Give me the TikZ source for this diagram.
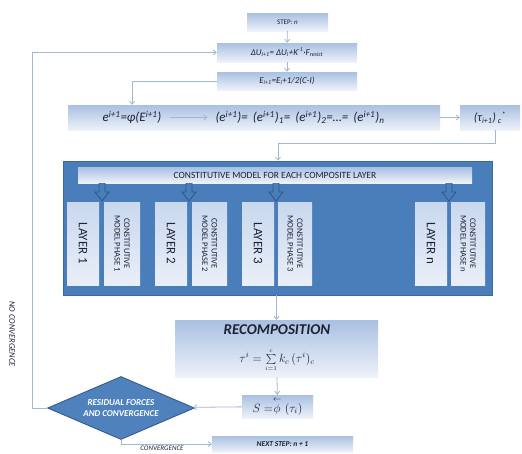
\documentclass[tikz,border=0pt]{standalone}
\usepackage{fontspec}
\setmainfont{Carlito}
\usetikzlibrary{arrows.meta,shapes.geometric}
\definecolor{bigblue}{HTML}{4A7EBB}
\definecolor{bigedge}{HTML}{3A689F}
\definecolor{boxtop}{HTML}{A9C0E2}
\definecolor{boxbot}{HTML}{EEF2F9}
\definecolor{laytop}{HTML}{C9D8EE}
\definecolor{laybot}{HTML}{E9EFF8}
\definecolor{linec}{HTML}{A3B6D3}
\definecolor{txt}{HTML}{1C2236}
\definecolor{diafill}{HTML}{4F81BD}
\definecolor{diaedge}{HTML}{2F5487}
\tikzset{
  gbox/.style={rectangle, inner sep=0pt, top color=boxtop, bottom color=boxbot, draw=none, text=txt, font=\itshape},
  laybox/.style={rectangle, inner sep=0pt, top color=laytop, bottom color=laybot, draw=none, text=txt, rotate=-90, align=center},
  conn/.style={draw=linec, line width=0.8pt, -{Straight Barb[length=3pt,width=5pt]}},
  blockarr/.style={draw=diaedge, fill=bigblue, line width=0.8pt, line join=miter},
  rowtxt/.style={inner sep=0pt, text=txt, font=\itshape\fontsize{13}{14}\selectfont},
  laytxt/.style={font=\fontsize{13}{14}\selectfont},
  cmtxt/.style={font=\fontsize{8.5}{9.5}\selectfont},
}
\begin{document}
\begin{tikzpicture}[x=1pt,y=-1pt]
\useasboundingbox (0,0) rectangle (522,453);
\fill[white] (0,0) rectangle (522,453);

% top boxes
\node[gbox, minimum width=81pt, minimum height=18pt, font=\fontsize{7}{8}\selectfont] (step) at (287.5,22) {STEP: \textit{n}};
\node[gbox, minimum width=140pt, minimum height=19pt, font=\itshape\fontsize{9}{10}\selectfont] (du) at (287,52.5) {ΔU\textsubscript{i+1}= ΔU\textsubscript{i}+K\textsuperscript{-1}·F\textsubscript{resist}};
\node[gbox, minimum width=140pt, minimum height=18pt, font=\itshape\fontsize{9}{10}\selectfont] (e) at (287,81) {E\textsubscript{i+1}=E\textsubscript{i}+1/2(C-I)};

\node[gbox, minimum width=372pt, minimum height=25pt] (erow) at (254,117.5) {};
\node[rowtxt] (t1) at (132,117.5) {e\textsuperscript{i+1}=φ(E\textsuperscript{i+1})};
\node[rowtxt] (t2) at (300,117.5) {(e\textsuperscript{i+1})=\, (e\textsuperscript{i+1})\textsubscript{1}=\, (e\textsuperscript{i+1})\textsubscript{2}=…=\, (e\textsuperscript{i+1})\textsubscript{n}};
\node[gbox, minimum width=60pt, minimum height=25pt, font=\itshape\fontsize{12}{13}\selectfont] (tau) at (490,117.5) {(τ\textsubscript{i+1})\textsubscript{ c}\textsuperscript{*}};

% big box
\node[rectangle, fill=bigblue, draw=bigedge, line width=0.8pt, minimum width=429pt, minimum height=134pt, inner sep=0pt] (big) at (277.5,228) {};
\node[gbox, minimum width=394pt, minimum height=16pt, font=\fontsize{9.5}{10}\selectfont] (bar) at (275,175) {CONSTITUTIVE MODEL FOR EACH COMPOSITE LAYER};

% layers
\node[laybox, laytxt, minimum width=83pt, minimum height=32pt] (l1) at (83,243.5) {LAYER 1};
\node[laybox, cmtxt, minimum width=83pt, minimum height=36pt] (c1) at (122,243.5) {CONSTITUTIVE\\MODEL PHASE 1};
\node[laybox, laytxt, minimum width=83pt, minimum height=32pt] (l2) at (171,243.5) {LAYER 2};
\node[laybox, cmtxt, minimum width=83pt, minimum height=35pt] (c2) at (209.5,243.5) {CONSTITUTIVE\\MODEL PHASE 2};
\node[laybox, laytxt, minimum width=83pt, minimum height=32pt] (l3) at (258,243.5) {LAYER 3};
\node[laybox, cmtxt, minimum width=83pt, minimum height=34pt] (c3) at (295,243.5) {CONSTITUTIVE\\MODEL PHASE 3};
\node[laybox, laytxt, minimum width=83pt, minimum height=32pt] (ln) at (431,243.5) {LAYER n};
\node[laybox, cmtxt, minimum width=83pt, minimum height=34pt] (cn) at (468,243.5) {CONSTITUTIVE\\MODEL PHASE n};

% block arrows
\foreach \a in {102,189,276,449}{
  \draw[blockarr] (\a-3,183) -- (\a-3,192) -- (\a-7,192) -- (\a,201) -- (\a+7,192) -- (\a+3,192) -- (\a+3,183);
}

% recomposition
\node[gbox, minimum width=203pt, minimum height=57pt] (rec) at (276.5,348.5) {};
\node[inner sep=0pt, text=txt, font=\bfseries\itshape\fontsize{15}{16}\selectfont] (rect) at (277,330) {RECOMPOSITION};
\node[inner sep=0pt, text=txt, font=\fontsize{12}{14}\selectfont] (recf) at (277,360) {$\tau^{i}=\sum\limits_{\scriptscriptstyle i=1}^{\scriptscriptstyle c}k_{c}\,(\tau^{i})_{c}$};
\node[gbox, minimum width=71pt, minimum height=23pt, font=\normalfont\fontsize{12}{14}\selectfont] (s) at (277.5,406.5) {$S=\stackrel{\leftarrow}{\phi}(\tau_{i})$};

\node[diamond, fill=diafill, draw=diaedge, line width=0.8pt, minimum width=147pt, minimum height=63pt, inner sep=0pt, aspect=2.33, text=white, align=center, font=\bfseries\itshape\fontsize{9}{10.5}\selectfont] (dia) at (121,408) {RESIDUAL FORCES\\AND CONVERGENCE};

\node[gbox, minimum width=141pt, minimum height=16pt, font=\bfseries\itshape\fontsize{7.5}{9}\selectfont] (next) at (282.5,444) {NEXT STEP: n + 1};

% connectors
\draw[conn] (step) -- (du);
\draw[conn] (du) -- (e);
\draw[conn] (e.west) -| (erow.north -| t1);
\draw[conn, shorten <=8pt, shorten >=8pt] (t1) -- (t2);
\draw[conn] (erow) -- (tau);
\coordinate (tj) at (278,143);
\draw[conn] ([xshift=5pt]tau.south) |- (tj) -- (tj |- big.north);
\draw[conn] (big.south -| rec.north) -- (rec.north);
\draw[conn] (rec) -- (s);
\draw[conn] (s) -- (dia);
\draw[conn] (dia.west) -- ++(-15,0) |- (du.west);
\draw[conn] (dia.south) |- (next.west);

\node[rotate=-90, text=txt, font=\itshape\fontsize{8.5}{9}\selectfont] (nc) at (12,334) {NO CONVERGENCE};
\node[text=txt, font=\itshape\fontsize{7}{8}\selectfont] (cv) at (162,448) {CONVERGENCE};
\end{tikzpicture}
\end{document}
